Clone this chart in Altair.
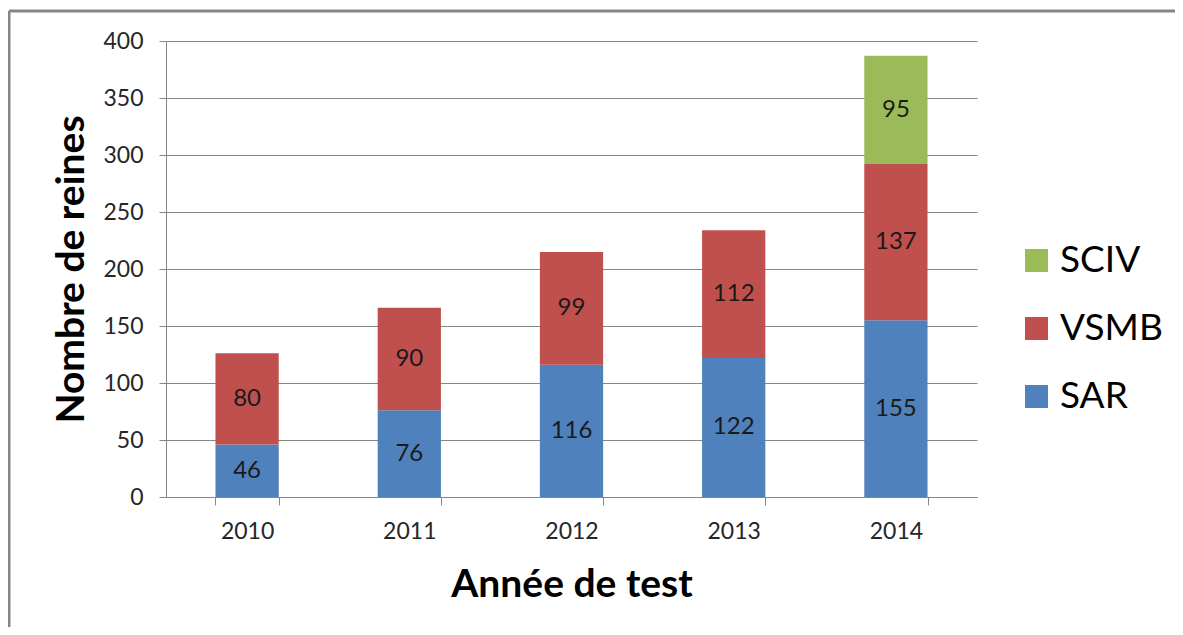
import altair as alt
import pandas as pd

years = ["2010", "2011", "2012", "2013", "2014"]
sar = [46, 76, 116, 122, 155]
vsmb = [80, 90, 99, 112, 137]
sciv = [None, None, None, None, 95]
series = ["SAR", "VSMB", "SCIV"]
colors = ["#4F81BD", "#C0504D", "#9BBB59"]
y_ticks = [0, 50, 100, 150, 200, 250, 300, 350, 400]

rows = []
for i, yr in enumerate(years):
    for k, (s, vals) in enumerate(zip(series, [sar, vsmb, sciv])):
        v = vals[i]
        if v is not None:
            rows.append({"year": yr, "series": s, "value": v, "order": k})
df = pd.DataFrame(rows)

FONT = "Lato"
GRAY = "#868686"

base = alt.Chart(df).transform_stack(
    stack="value", groupby=["year"],
    sort=[alt.SortField("order", order="ascending")],
    as_=["y0", "y1"]
).transform_calculate(mid="(datum.y0 + datum.y1) / 2")

xenc = alt.X("year:N", title="Année de test",
             scale=alt.Scale(paddingInner=0.61, paddingOuter=0.305),
             axis=alt.Axis(labelAngle=0, tickBand="extent", tickSize=8, grid=False,
                           labelFontSize=23, labelPadding=15, titleFontSize=39,
                           titleFontWeight="bold", titlePadding=22))

bars = base.mark_bar().encode(
    x=xenc,
    y=alt.Y("y0:Q", title="Nombre de reines",
            scale=alt.Scale(domain=[0, 400], nice=False),
            axis=alt.Axis(values=y_ticks, grid=True, tickSize=7, labelFontSize=23,
                          labelPadding=16, titleFontSize=39, titleFontWeight="bold",
                          titlePadding=11)),
    y2="y1:Q",
    color=alt.Color("series:N",
                    scale=alt.Scale(domain=["SCIV", "VSMB", "SAR"],
                                    range=[colors[2], colors[1], colors[0]]),
                    legend=alt.Legend(title=None, orient="none", legendX=852, legendY=201,
                                      symbolType="square", symbolSize=529,
                                      symbolStrokeWidth=0, labelFontSize=37,
                                      labelOffset=5, rowPadding=30, padding=0)),
)

labels = base.mark_text(fontSize=24, font=FONT, color="#1a1a1a", baseline="middle").encode(
    x=alt.X("year:N"),
    y=alt.Y("mid:Q"),
    text=alt.Text("value:Q"),
)

frame_src = alt.Chart(pd.DataFrame({"f": [0]}))
frame_left = frame_src.mark_rule(color=GRAY, strokeWidth=3).encode(
    x=alt.value(-157), y=alt.value(-30), y2=alt.value(700))
frame_top = frame_src.mark_rule(color=GRAY, strokeWidth=3).encode(
    x=alt.value(-157), x2=alt.value(1100), y=alt.value(-30))

chart = alt.layer(bars, labels, frame_left, frame_top).properties(
    width=811, height=456,
    autosize=alt.AutoSizeParams(type="none"),
    padding={"left": 158, "top": 33, "right": 198, "bottom": 130},
).configure_view(stroke=None).configure_axis(
    labelFont=FONT, titleFont=FONT, labelColor="#262626", titleColor="#000000",
    domainColor=GRAY, tickColor=GRAY, gridColor=GRAY,
).configure_legend(labelFont=FONT, labelColor="#000000")

chart.save("out.html", embed_options={"renderer": "svg", "actions": False})
